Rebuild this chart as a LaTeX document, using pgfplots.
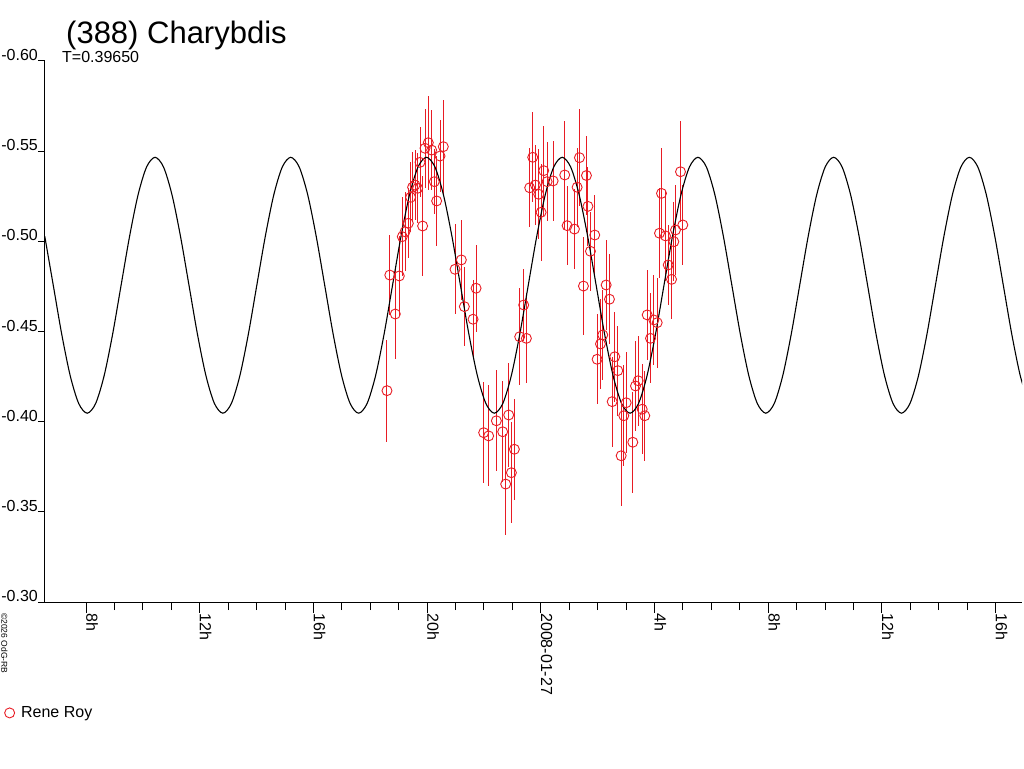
\documentclass[border=0pt]{standalone}
\usepackage{fontspec}
\setmainfont{Liberation Sans}
\usepackage{pgfplots}
\pgfplotsset{compat=1.18}
\usepackage{pgfplotstable}
\definecolor{obsred}{RGB}{232,28,36}

\pgfplotstableread{
t v e
18.588 -0.4172 0.0283
18.687 -0.4813 0.0222
18.880 -0.4597 0.0250
19.021 -0.4808 0.0222
19.127 -0.5026 0.0220
19.222 -0.5053 0.0220
19.338 -0.5100 0.0194
19.419 -0.5244 0.0194
19.489 -0.5300 0.0194
19.574 -0.5312 0.0194
19.665 -0.5294 0.0194
19.750 -0.5438 0.0194
19.842 -0.5085 0.0277
19.926 -0.5516 0.0220
20.042 -0.5547 0.0260
20.158 -0.5506 0.0220
20.254 -0.5331 0.0180
20.335 -0.5224 0.0250
20.454 -0.5473 0.0200
20.570 -0.5525 0.0260
20.982 -0.4845 0.0250
21.204 -0.4897 0.0220
21.310 -0.4638 0.0220
21.616 -0.4568 0.0220
21.722 -0.4740 0.0240
21.989 -0.3939 0.0280
22.165 -0.3921 0.0280
22.437 -0.4005 0.0280
22.658 -0.3944 0.0280
22.764 -0.3654 0.0280
22.870 -0.4037 0.0290
22.965 -0.3717 0.0280
23.070 -0.3847 0.0280
23.257 -0.4471 0.0270
23.398 -0.4647 0.0200
23.493 -0.4462 0.0250
23.609 -0.5297 0.0220
23.715 -0.5466 0.0250
23.810 -0.5312 0.0220
23.926 -0.5261 0.0250
24.011 -0.5161 0.0270
24.102 -0.5392 0.0250
24.222 -0.5331 0.0220
24.433 -0.5335 0.0220
24.842 -0.5368 0.0300
24.926 -0.5087 0.0220
25.183 -0.5068 0.0220
25.278 -0.5300 0.0220
25.359 -0.5464 0.0270
25.500 -0.4752 0.0270
25.606 -0.5365 0.0220
25.658 -0.5194 0.0220
25.746 -0.4945 0.0220
25.898 -0.5035 0.0220
25.982 -0.4346 0.0250
26.099 -0.4431 0.0250
26.180 -0.4481 0.0250
26.299 -0.4758 0.0250
26.415 -0.4679 0.0250
26.511 -0.4111 0.0250
26.602 -0.4360 0.0250
26.708 -0.4283 0.0250
26.827 -0.3811 0.0280
26.919 -0.4033 0.0280
27.004 -0.4105 0.0280
27.236 -0.3886 0.0280
27.331 -0.4198 0.0250
27.426 -0.4227 0.0250
27.567 -0.4069 0.0250
27.658 -0.4033 0.0250
27.743 -0.4592 0.0250
27.859 -0.4462 0.0250
27.975 -0.4564 0.0250
28.095 -0.4549 0.0250
28.176 -0.5045 0.0250
28.246 -0.5266 0.0250
28.387 -0.5030 0.0250
28.482 -0.4869 0.0220
28.599 -0.4789 0.0220
28.680 -0.4998 0.0220
28.739 -0.5063 0.0250
28.915 -0.5386 0.0280
28.996 -0.5091 0.0220
}\obsdata

\pgfplotstableread{
t v
6.5478 -0.5028
6.8462 -0.4757
7.1447 -0.4485
7.4431 -0.4255
7.7416 -0.4101
8.0400 -0.4047
8.3384 -0.4101
8.6369 -0.4255
8.9353 -0.4485
9.2338 -0.4757
9.5322 -0.5028
9.8306 -0.5258
10.1291 -0.5412
10.4275 -0.5466
10.7260 -0.5412
11.0244 -0.5258
11.3228 -0.5028
11.6213 -0.4757
11.9197 -0.4485
12.2182 -0.4255
12.5166 -0.4101
12.8150 -0.4047
13.1134 -0.4101
13.4119 -0.4255
13.7103 -0.4485
14.0088 -0.4757
14.3072 -0.5028
14.6056 -0.5258
14.9041 -0.5412
15.2025 -0.5466
15.5010 -0.5412
15.7994 -0.5258
16.0978 -0.5028
16.3963 -0.4757
16.6947 -0.4485
16.9932 -0.4255
17.2916 -0.4101
17.5901 -0.4047
17.8885 -0.4101
18.1870 -0.4255
18.4854 -0.4485
18.7839 -0.4757
19.0823 -0.5028
19.3807 -0.5258
19.6792 -0.5412
19.9776 -0.5466
20.2761 -0.5412
20.5745 -0.5258
20.8729 -0.5028
21.1714 -0.4757
21.4698 -0.4485
21.7683 -0.4255
22.0667 -0.4101
22.3651 -0.4047
22.6635 -0.4101
22.9620 -0.4255
23.2604 -0.4485
23.5589 -0.4757
23.8573 -0.5028
24.1557 -0.5258
24.4542 -0.5412
24.7526 -0.5466
25.0511 -0.5412
25.3495 -0.5258
25.6479 -0.5028
25.9464 -0.4757
26.2448 -0.4485
26.5433 -0.4255
26.8417 -0.4101
27.1402 -0.4047
27.4386 -0.4101
27.7371 -0.4255
28.0355 -0.4485
28.3340 -0.4757
28.6324 -0.5028
28.9308 -0.5258
29.2293 -0.5412
29.5277 -0.5466
29.8262 -0.5412
30.1246 -0.5258
30.4230 -0.5028
30.7215 -0.4757
31.0199 -0.4485
31.3184 -0.4255
31.6168 -0.4101
31.9152 -0.4047
32.2136 -0.4101
32.5121 -0.4255
32.8105 -0.4485
33.1090 -0.4757
33.4074 -0.5028
33.7058 -0.5258
34.0043 -0.5412
34.3027 -0.5466
34.6012 -0.5412
34.8996 -0.5258
35.1980 -0.5028
35.4965 -0.4757
35.7949 -0.4485
36.0934 -0.4255
36.3918 -0.4101
36.6902 -0.4047
36.9886 -0.4101
37.2871 -0.4255
37.5855 -0.4485
37.8840 -0.4757
38.1824 -0.5028
38.4808 -0.5258
38.7793 -0.5412
39.0777 -0.5466
39.3762 -0.5412
39.6746 -0.5258
39.9730 -0.5028
40.2715 -0.4757
40.5699 -0.4485
40.8684 -0.4255
41.1668 -0.4101
}\model

\begin{document}
\begin{tikzpicture}
\useasboundingbox (0,0) rectangle (1024pt,768pt);
% y axis with its shorter ticks
\begin{axis}[
  at={(533.5pt,436.5pt)}, anchor=center,
  scale only axis, width=977pt, height=541pt,
  xmin=6.556, xmax=40.93, ymin=-0.60, ymax=-0.30, y dir=reverse,
  axis x line=none, axis y line*=left,
  axis line style={black, line width=1pt, -},
  ytick={-0.60,-0.55,-0.50,-0.45,-0.40,-0.35,-0.30},
  yticklabels={-0.60,-0.55,-0.50,-0.45,-0.40,-0.35,-0.30},
  tick align=outside,
  major tick length=7pt,
  tick style={black, line width=1pt},
  yticklabel style={anchor=south east, inner sep=0pt, font=\fontsize{16}{19}\selectfont},
]
\end{axis}
\begin{axis}[
  at={(533.5pt,436.5pt)}, anchor=center,
  scale only axis, width=977pt, height=541pt,
  xmin=6.556, xmax=40.93, ymin=-0.60, ymax=-0.30, y dir=reverse,
  axis x line*=bottom, axis y line*=left,
  axis line style={black, line width=1pt, -},
  xtick={8,12,16,20,24,28,32,36,40},
  xticklabels={8h,12h,16h,20h,2008-01-27,4h,8h,12h,16h},
  minor x tick num=3,
  ytick=\empty,
  tick align=outside,
  major tick length=11pt, minor tick length=8pt,
  tick style={black, line width=1pt},
  xticklabel style={rotate=-90, anchor=south west, inner sep=0pt, font=\fontsize{16}{19}\selectfont},
  legend style={draw=none, fill=none, at={(axis description cs:-0.0415,-0.205)}, anchor=west,
    inner sep=0pt, font=\fontsize{16}{19}\selectfont, legend cell align=left},
  legend image code/.code={\draw[#1] plot coordinates {(0pt,0pt)};},
  clip=true,
]
\addplot[only marks, mark=o, color=obsred, mark size=5pt, mark options={line width=0.9pt},
  error bars/.cd, y dir=both, y explicit, error mark=none,
  error bar style={obsred, line width=1pt}]
  table[x=t, y=v, y error=e] {\obsdata};
\addlegendentry{\hspace*{4.5pt}Rene Roy}
\addplot[black, line width=1.1pt, smooth, tension=0.5, no marks, forget plot] table[x=t, y=v] {\model};
\end{axis}
\node[anchor=base west, inner sep=0pt, font=\fontsize{31}{36}\selectfont] at (66pt,724.5pt) {(388) Charybdis};
\node[anchor=base west, inner sep=0pt, font=\fontsize{16}{19}\selectfont] at (62pt,705pt) {T=0.39650};
\node[rotate=-90, anchor=south west, inner sep=0pt, font=\fontsize{8.5}{10}\selectfont] at (1pt,155pt) {©2026 OdG-RB};
\end{tikzpicture}
\end{document}
